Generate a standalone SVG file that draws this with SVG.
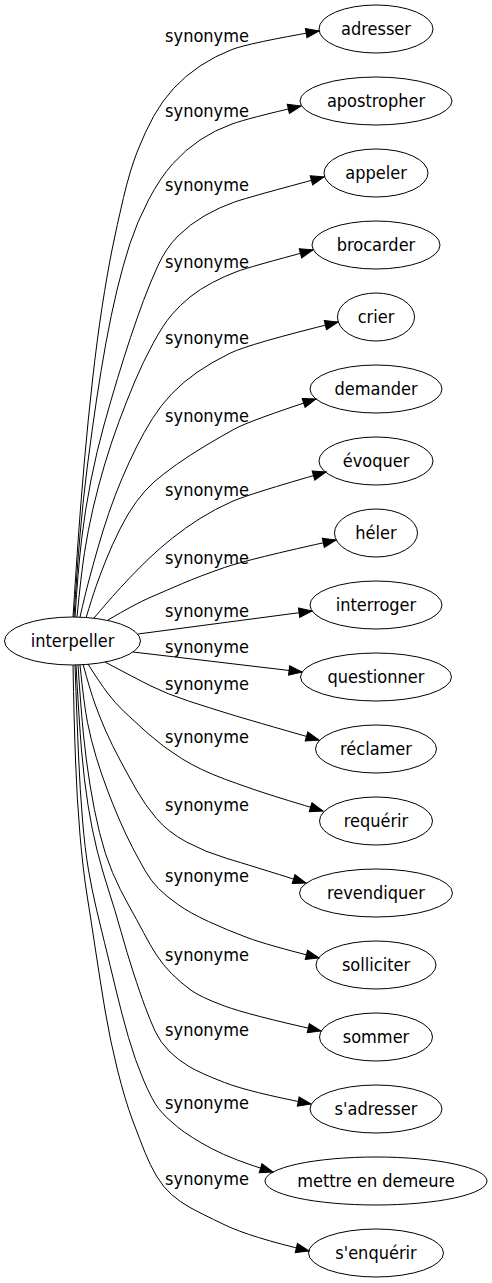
<svg xmlns="http://www.w3.org/2000/svg" width="492" height="1283" viewBox="0 0 492 1283">
<style>
text{font-family:"DejaVu Sans Condensed","DejaVu Sans",sans-serif;font-stretch:condensed;font-size:18px;fill:#000;text-anchor:middle}
.n ellipse{fill:none;stroke:#000;stroke-width:1}
.e path{fill:none;stroke:#000;stroke-width:1;marker-end:url(#arr)}
</style>
<defs>
<marker id="arr" markerUnits="userSpaceOnUse" markerWidth="16" markerHeight="12" viewBox="-1 -6 16 12" refX="13" refY="0" orient="auto" overflow="visible">
<path d="M0,-4.7 L13,0 L0,4.7 z" fill="#000" stroke="#000" stroke-width="1"/>
</marker>
</defs>
<rect width="492" height="1283" fill="#fff"/>
<g id="edges" class="e">
<path d="M73,617 Q76,570 78.5,535 T84.5,460 T92.5,380 T102,307.5 T112,250 T123.5,197.5 T137.5,151 T153.5,116.5 T173.5,88.5 T200,66 T232,49.5 T319,31"/>
<path d="M74,617 Q77,570 80,535 T87.5,465 T96.5,400 T106,342.5 T117,290 T130,243.5 T148.5,200 T172.5,164 T200,140 T232,124 T301,106"/>
<path d="M75,617 Q78,570 81.5,540 T91,480 T104,425 T117.5,378.5 T130.5,337.5 T143.5,300.5 T158,265.5 T178,236 T205,215.5 T234.5,202 T324,177"/>
<path d="M77,617 Q81,575 84.5,552.5 T93,508.5 T104.5,465 T119,421.5 T135,381 T153,343.5 T171.5,315 T190,297 T212.5,282.5 T237,271.5 T313,250"/>
<path d="M80,617 Q85,595 89,580 T98,547.5 T109,512.5 T122,478.5 T136.5,447 T152.5,418.5 T172,393.5 T197.5,372 T230.5,353 T338,322"/>
<path d="M86,618 Q92,598 96,586.5 T106,560 T120,529 T136.5,501.5 T154,482 T176.5,464.5 T205,446 T234.5,429 T316,399"/>
<path d="M94,618 Q105,605 112.5,596.5 T130,577.5 T150,557.5 T172.5,538 T200,518.5 T232,501.5 T326,472"/>
<path d="M108,620 Q135,604 150,597.5 T182.5,583.5 T224.5,567.5 T336,540"/>
<path d="M138,634 L312,611"/>
<path d="M133,652 L302,672"/>
<path d="M105,662 Q135,678 151,686 T188.5,701 T229.5,714 T319,740"/>
<path d="M88,664 Q100,683 107.5,693 T124,711.5 T148,733.5 T181.5,758.5 T224.5,779 T266,793.5 T323,811"/>
<path d="M83,664 Q90,690 95,704 T106,731.5 T120,760 T136.5,790 T156.5,818.5 T186.5,842 T227,858.5 T306,883"/>
<path d="M80,665 Q84,705 87.5,722.5 T96,756.5 T107,789 T119.5,820 T132.5,847.5 T145,870.5 T158.5,888.5 T178,904.5 T208.5,921.5 T247,937.5 T319,958"/>
<path d="M78,665 Q81,710 83.5,735 T90,785 T99.5,832.5 T112.5,872.5 T128.5,905 T143.5,932.5 T156.5,955 T171.5,973.5 T190,989.5 T224.5,1006 T321,1031"/>
<path d="M76,665 Q79,720 81.5,750 T88,805 T97,850 T108.5,890 T121,931.5 T133.5,973 T145,1006.5 T155,1031 T169,1051 T189,1066.5 T224.5,1082.5 T311,1104"/>
<path d="M75,665 Q77,720 78.5,755 T82.5,820 T88.5,870 T95.5,905 T104.5,942.5 T116,990 T128.5,1037.5 T143.5,1080 T158.5,1108.5 T177.5,1127 T211.5,1148.5 T273,1172"/>
<path d="M73,665 Q74,720 75.5,760 T80,835 T87,895 T95.5,950 T105,1010 T117.5,1070 T132.5,1120 T145,1152.5 T156.5,1176 T171.5,1194.5 T190,1207.5 T225,1225 T309,1251"/>
<g id="labels">
<text x="207" y="42">synonyme</text>
<text x="207" y="117">synonyme</text>
<text x="207" y="191">synonyme</text>
<text x="207" y="268">synonyme</text>
<text x="207" y="344">synonyme</text>
<text x="207" y="422">synonyme</text>
<text x="207" y="496">synonyme</text>
<text x="207" y="564">synonyme</text>
<text x="207" y="617">synonyme</text>
<text x="207" y="653">synonyme</text>
<text x="207" y="690">synonyme</text>
<text x="207" y="743">synonyme</text>
<text x="207" y="811">synonyme</text>
<text x="207" y="882">synonyme</text>
<text x="207" y="961">synonyme</text>
<text x="207" y="1036">synonyme</text>
<text x="207" y="1109">synonyme</text>
<text x="207" y="1185">synonyme</text>
</g>
</g>
<g id="interpeller" class="n"><ellipse cx="72.5" cy="641" rx="68" ry="24"/><text x="72.5" y="647">interpeller</text></g>
<g id="adresser" class="n"><ellipse cx="376" cy="29" rx="57" ry="24"/><text x="376" y="35">adresser</text></g>
<g id="apostropher" class="n"><ellipse cx="376" cy="101" rx="76" ry="24"/><text x="376" y="107">apostropher</text></g>
<g id="appeler" class="n"><ellipse cx="376" cy="173" rx="52" ry="24"/><text x="376" y="179">appeler</text></g>
<g id="brocarder" class="n"><ellipse cx="376" cy="245" rx="64" ry="24"/><text x="376" y="251">brocarder</text></g>
<g id="crier" class="n"><ellipse cx="376" cy="317" rx="38.5" ry="24"/><text x="376" y="323">crier</text></g>
<g id="demander" class="n"><ellipse cx="376" cy="389" rx="66" ry="24"/><text x="376" y="395">demander</text></g>
<g id="evoquer" class="n"><ellipse cx="376" cy="461" rx="57" ry="24"/><text x="376" y="467">évoquer</text></g>
<g id="heler" class="n"><ellipse cx="376" cy="533" rx="41.5" ry="24"/><text x="376" y="539">héler</text></g>
<g id="interroger" class="n"><ellipse cx="376" cy="605" rx="66" ry="24"/><text x="376" y="611">interroger</text></g>
<g id="questionner" class="n"><ellipse cx="376" cy="677" rx="75.5" ry="24"/><text x="376" y="683">questionner</text></g>
<g id="reclamer" class="n"><ellipse cx="376" cy="749" rx="60.5" ry="24"/><text x="376" y="755">réclamer</text></g>
<g id="requerir" class="n"><ellipse cx="376" cy="821" rx="56.5" ry="24"/><text x="376" y="827">requérir</text></g>
<g id="revendiquer" class="n"><ellipse cx="376" cy="893" rx="76.5" ry="24"/><text x="376" y="899">revendiquer</text></g>
<g id="solliciter" class="n"><ellipse cx="376" cy="965" rx="60" ry="24"/><text x="376" y="971">solliciter</text></g>
<g id="sommer" class="n"><ellipse cx="376" cy="1037" rx="56.5" ry="24"/><text x="376" y="1043">sommer</text></g>
<g id="sadresser" class="n"><ellipse cx="376" cy="1109" rx="66" ry="24"/><text x="376" y="1115">s'adresser</text></g>
<g id="mettre_en_demeure" class="n"><ellipse cx="376" cy="1181" rx="111" ry="24"/><text x="376" y="1187">mettre en demeure</text></g>
<g id="senquerir" class="n"><ellipse cx="376" cy="1253" rx="67.5" ry="24"/><text x="376" y="1259">s'enquérir</text></g>
</svg>
